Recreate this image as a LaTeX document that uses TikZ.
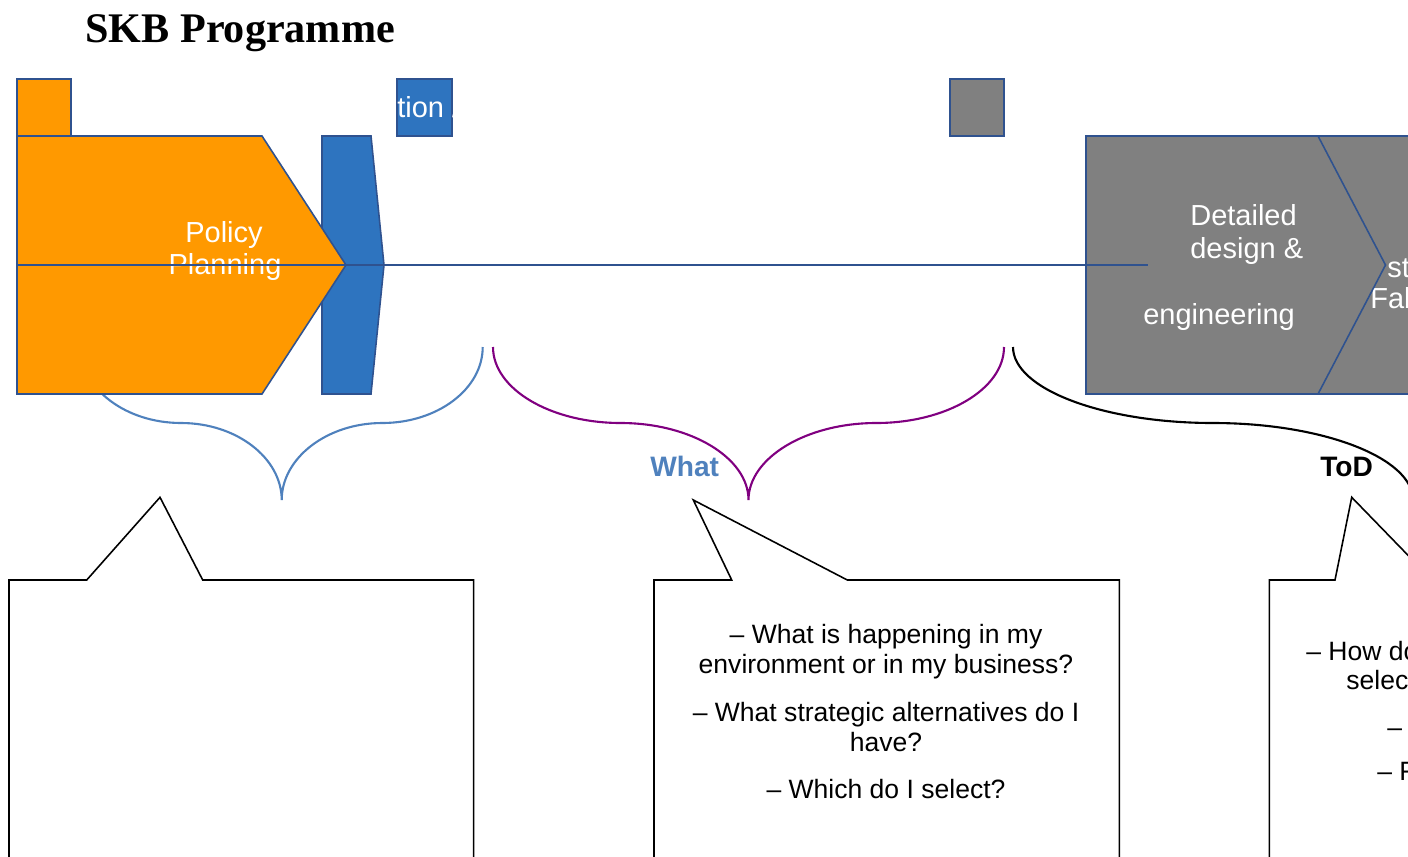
\documentclass[tikz,border=0pt]{standalone}
\usepackage{fontspec}
\setmainfont{Liberation Sans}
\newfontfamily\titlefont{Liberation Serif}
\definecolor{orangef}{HTML}{FF9900}
\definecolor{bluef}{HTML}{2E74BF}
\definecolor{greyf}{HTML}{808080}
\definecolor{bordc}{HTML}{2F528F}
\definecolor{bracec}{HTML}{4F81BD}
\definecolor{purplec}{HTML}{800080}
\tikzset{
  shp/.style={draw=bordc, line width=0.9pt, line join=miter},
  bracestyle/.style={line width=1.2pt},
  callout/.style={draw=black, line width=0.9pt, line join=miter},
  wtxt/.style={text=white, inner sep=0pt, font=\fontsize{16.5}{19}\selectfont},
  btxt/.style={text=black, inner sep=0pt, font=\fontsize{15.1}{17}\selectfont},
  hline/.style={draw=bordc, line width=0.8pt}
}
\begin{document}
\begin{tikzpicture}[x=0.02cm, y=-0.02cm]
\useasboundingbox (0,0) rectangle (1408,856);
\clip (0,0) rectangle (1408,856);

% title
\node[anchor=base west, inner sep=0pt, font=\titlefont\bfseries\fontsize{24}{28}\selectfont] (title) at (85,42) {SKB Programme};

% braces
\draw[bracestyle, draw=bracec] (80.7,347) .. controls (80.7,389) and (126,423) .. (181.2,423)
  .. controls (236.5,423) and (281.7,458) .. (281.7,500)
  .. controls (281.7,458) and (327,423) .. (382.2,423)
  .. controls (437.5,423) and (482.7,389) .. (482.7,347);
\draw[bracestyle, draw=purplec] (493,347) .. controls (493,389) and (550.5,423) .. (620.75,423)
  .. controls (691,423) and (748.5,458) .. (748.5,500)
  .. controls (748.5,458) and (806,423) .. (876.25,423)
  .. controls (946.5,423) and (1004,389) .. (1004,347);
\draw[bracestyle, draw=black] (1013,347) .. controls (1013,389) and (1103,423) .. (1213,423)
  .. controls (1323,423) and (1413,458) .. (1413,500)
  .. controls (1413,458) and (1503,423) .. (1613,423)
  .. controls (1723,423) and (1813,389) .. (1813,347);

% small top rectangles
\draw[shp, fill=orangef] (17,79) rectangle (71,136);
\draw[shp, fill=bluef] (397,79) rectangle (452,136);
\node[wtxt, anchor=base west] (tion) at (397,117) {tion /};
\draw[shp, fill=greyf] (950,79) rectangle (1004,136);

% blue chevron behind the orange pentagon
\draw[shp, fill=bluef] (322,136) -- (371,136) -- (384,265) -- (371,394) -- (322,394) -- cycle;
\draw[shp, fill=orangef] (17,136) -- (262,136) -- (346,265) -- (262,394) -- (17,394) -- cycle;
\node[wtxt, anchor=base] (policy) at (224,242) {Policy};
\node[wtxt, anchor=base] (planning) at (225,274) {Planning};

% grey shapes
\draw[shp, fill=greyf] (1260,136) rectangle (1480,394);
\node[wtxt, anchor=base west] (st) at (1387,277) {st};
\node[wtxt, anchor=base west] (fab) at (1370,308) {Fab};
\draw[shp, fill=greyf] (1086,136) -- (1318,136) -- (1385.5,265) -- (1318,394) -- (1086,394) -- cycle;
\node[wtxt, anchor=base west] (detailed) at (1190,225) {Detailed};
\node[wtxt, anchor=base west] (design) at (1190,258) {design \&};
\node[wtxt, anchor=base west] (engineering) at (1143,324) {engineering};

% horizontal axis line
\coordinate (lstart) at (17,265);
\coordinate (lend) at (1148,265);
\draw[hline] (lstart) -- (lend);

% brace labels
\node[anchor=base west, inner sep=0pt, text=bracec, font=\bfseries\fontsize{16}{19}\selectfont] (what) at (650,476) {What};
\node[anchor=base west, inner sep=0pt, text=black, font=\bfseries\fontsize{16}{19}\selectfont] (tod) at (1320,476) {ToD};

% callouts
\draw[callout] (9,900) -- (9,580) -- (86.7,580) -- (160,497.3) -- (202.7,580) -- (473.7,580) -- (473.7,900);
\draw[callout] (654,900) -- (654,580) -- (731.7,580) -- (693.3,500) -- (847.3,580) -- (1119.3,580) -- (1119.3,900);
\draw[callout] (1269.3,900) -- (1269.3,580) -- (1335,580) -- (1351.7,497.3) -- (1432,580) -- (1500,580);

% callout 2 text
\node[btxt, anchor=base] (q1a) at (886,643) {– What is happening in my};
\node[btxt, anchor=base] (q1b) at (886,673) {environment or in my business?};
\node[btxt, anchor=base] (q2a) at (886,721) {– What strategic alternatives do I};
\node[btxt, anchor=base] (q2b) at (886,751) {have?};
\node[btxt, anchor=base] (q3) at (886,798) {– Which do I select?};

% callout 3 text (cut at the right edge, as in the reference)
\node[btxt, anchor=base west] (r1a) at (1306,660) {– How do};
\node[btxt, anchor=base west] (r1b) at (1346,689) {select};
\node[btxt, anchor=base west] (r2) at (1387,736) {–};
\node[btxt, anchor=base west] (r3) at (1377,780) {– F};
\end{tikzpicture}
\end{document}
